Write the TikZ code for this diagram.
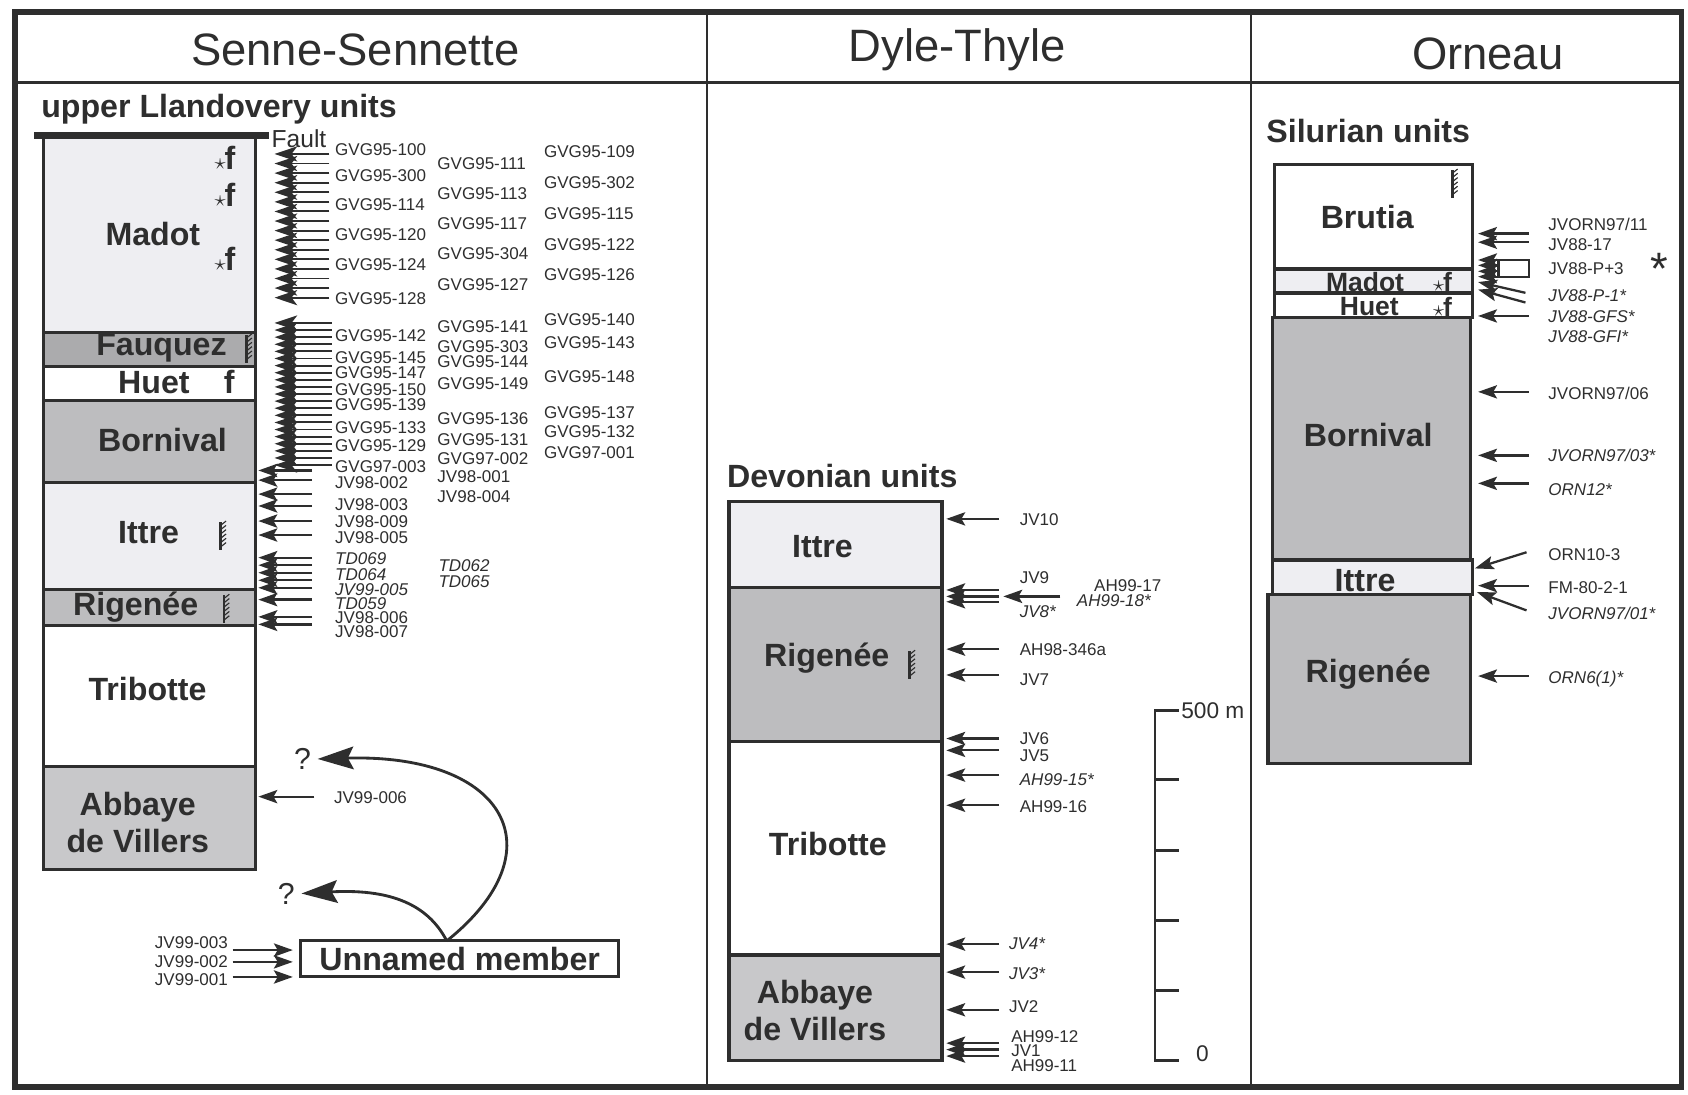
\documentclass[tikz,border=0pt]{standalone}
\usepackage{fontspec}
\setmainfont{Liberation Sans}
\usetikzlibrary{arrows.meta}

\definecolor{ink}{HTML}{2E2E2E}
\definecolor{lite}{HTML}{EEEEF2}
\definecolor{mid}{HTML}{BDBDBF}
\definecolor{dark}{HTML}{ABABAD}
\definecolor{pale}{HTML}{C8C8CA}

\newcommand{\starf}{{\fontsize{13}{13}\selectfont$\star$}\kern-0.5pt f}

\tikzset{
  unitbox/.style={draw=ink, line width=1.6pt},
  unitlab/.style={font=\bfseries\fontsize{17}{19.5}\selectfont, text=ink, align=center, inner sep=0pt},
  smallunit/.style={unitlab, font=\bfseries\fontsize{14}{14}\selectfont},
  heading/.style={font=\bfseries\fontsize{17}{17}\selectfont, text=ink, anchor=west, inner sep=0pt},
  colhead/.style={font=\fontsize{24}{24}\selectfont, text=ink, inner sep=0pt},
  smp/.style={font=\fontsize{9}{9}\selectfont, text=ink, anchor=west, inner sep=0pt},
  smpi/.style={smp, font=\itshape\fontsize{9}{9}\selectfont},
  arr/.style={draw=ink, line width=1.2pt, -{Stealth[length=10pt,width=7pt,inset=2pt]}},
  fatarr/.style={draw=ink, line width=1pt, -{Stealth[length=12pt,width=8pt,inset=3pt]}},
  bigarr/.style={draw=ink, line width=1.5pt, -{Stealth[length=19pt,width=12pt,inset=3pt]}},
  grapt/.pic={
    \draw[ink, line width=1.4pt] (0,0) -- (0,26);
    \foreach \tk in {3,7,...,23} \draw[ink, line width=0.6pt] (0,\tk) -- (5,\tk-4);
  }
}

\begin{document}
\begin{tikzpicture}[x=0.02cm, y=-0.02cm]
  \useasboundingbox (0,0) rectangle (1568,1017);

  % frame and column heads
  \draw[ink, line width=1pt] (657,11) -- (657,1010) (1162,11) -- (1162,1010);
  \draw[ink, line width=1.5pt] (14,77) -- (1562,77);
  \draw[ink, line width=3pt] (14,11) rectangle (1562,1010);
  \node[colhead] (h-ss) at (330,46) {Senne-Sennette};
  \node[colhead] (h-dt) at (889,46) {Dyle-Thyle};
  \node[colhead] (h-or) at (1382,50) {Orneau};

  % ---- Senne-Sennette ----
  \node[heading] (ss-head) at (38,101) {upper Llandovery units};
  \foreach \ya/\yb/\fc in {126/309/lite, 309/340/dark, 340/372/white, 372/448/mid,
    448/548/lite, 548/581/mid, 581/712/white, 712/808/pale}
    \filldraw[unitbox, fill=\fc] (40,\ya) rectangle (237,\yb);
  \foreach \nm/\lx/\ly/\lab in {
    mad/142/217/Madot, fau/150/323/Fauquez, hue/143/355/Huet, bor/151/409/Bornival,
    itt/138/495/Ittre, rig/126/564/Rigenée, tri/137/640/Tribotte}
    \node[unitlab] (ss-\nm) at (\lx,\ly) {\lab};
  \node[unitlab] (ss-abb) at (128,764) {Abbaye\\de Villers};
  \draw[ink, line width=3.5pt] (32,126) -- (250,126);
  \node[font=\fontsize{13}{13}\selectfont, text=ink, anchor=west, inner sep=0pt] (fault) at (252,129) {Fault};
  \foreach \y in {147,181,240}
    \node[unitlab] at (209,\y) {\starf};
  \node[unitlab] at (213,355) {f};
  \pic at (229,311) {grapt};
  \pic at (205,485) {grapt};
  \pic at (208,553) {grapt};

  \foreach \i in {0,...,15}
    \draw[fatarr] (306,{143+\i*8.9}) -- (255,{143+\i*8.9});
  \foreach \i in {0,...,20}
    \draw[fatarr] (308,{300+\i*6.6}) -- (255,{300+\i*6.6});
  \foreach \y in {437,446,459,470,484,497,518,525,532,539,546,557,573,580}
    \draw[arr] (290,\y) -- (240,\y);

  \foreach \x/\y/\lb [count=\k] in {
    311/139/GVG95-100, 311/163/GVG95-300, 311/190/GVG95-114, 311/218/GVG95-120,
    311/246/GVG95-124, 311/277/GVG95-128, 311/312/GVG95-142, 311/332/GVG95-145,
    311/346/GVG95-147, 311/362/GVG95-150, 311/376/GVG95-139, 311/397/GVG95-133,
    311/414/GVG95-129, 311/433/GVG97-003, 311/448/JV98-002, 311/469/JV98-003,
    311/485/JV98-009, 311/499/JV98-005, 311/574/JV98-006, 311/587/JV98-007,
    406/152/GVG95-111, 406/180/GVG95-113, 406/208/GVG95-117, 406/236/GVG95-304,
    406/264/GVG95-127, 406/303/GVG95-141, 406/322/GVG95-303, 406/336/GVG95-144,
    406/356/GVG95-149, 406/389/GVG95-136, 406/408/GVG95-131, 406/426/GVG97-002,
    406/443/JV98-001, 406/461/JV98-004,
    505/141/GVG95-109, 505/170/GVG95-302, 505/198/GVG95-115, 505/227/GVG95-122,
    505/255/GVG95-126, 505/297/GVG95-140, 505/318/GVG95-143, 505/350/GVG95-148,
    505/383/GVG95-137, 505/401/GVG95-132, 505/420/GVG97-001, 310/741/JV99-006}
    \node[smp] (ss\k) at (\x,\y) {\lb};
  \foreach \x/\y/\lb [count=\k] in {
    311/519/TD069, 311/534/TD064, 311/548/JV99-005, 311/561/TD059,
    407/525/TD062, 407/540/TD065}
    \node[smpi] (ssi\k) at (\x,\y) {\lb};
  \draw[arr] (292,740) -- (240,740);

  % unnamed member
  \node[draw=ink, line width=1.6pt, minimum width=5.92cm, minimum height=0.66cm,
        font=\bfseries\fontsize{17}{17}\selectfont, text=ink] (unnamed) at (427,890.5) {Unnamed member};
  \foreach \y/\lb [count=\k] in {876/JV99-003, 893/JV99-002, 910/JV99-001}
    \node[smp, anchor=east] (un\k) at (212,\y) {\lb};
  \foreach \y in {882.5,893.5,907.5}
    \draw[arr] (216,\y) -- (272,\y);
  \coordinate (un-top) at (415,874);
  \node[font=\fontsize{16}{16}\selectfont, text=ink] (q1) at (281,705) {?};
  \node[font=\fontsize{16}{16}\selectfont, text=ink] (q2) at (266,830) {?};
  \draw[bigarr] (un-top) .. controls (520,790) and (470,700) .. (q1.east);
  \draw[bigarr] (un-top) .. controls (400,845) and (370,825) .. (q2.east);

  % ---- Dyle-Thyle ----
  \node[heading] (dt-head) at (675,442) {Devonian units};
  \foreach \ya/\yb/\fc in {466/546/lite, 546/689/mid, 689/887/white, 887/985/pale}
    \filldraw[unitbox, line width=1.8pt, fill=\fc] (677,\ya) rectangle (875,\yb);
  \foreach \nm/\lx/\ly/\lab in {itt/764/508/Ittre, rig/768/611/Rigenée, tri/769/784/Tribotte}
    \node[unitlab] (dt-\nm) at (\lx,\ly) {\lab};
  \node[unitlab] (dt-abb) at (757,939) {Abbaye\\de Villers};
  \pic at (845,605) {grapt};
  \foreach \y in {482,548,554,559,603,627,686,697,720,748,877,903,938,969,975,981}
    \draw[arr] (928,\y) -- (879,\y);
  \draw[arr] (985,554) -- (932,554);
  \foreach \x/\y/\lb [count=\k] in {
    947/483/JV10, 947/537/JV9, 1016/544/AH99-17, 947/603/AH98-346a, 947/631/JV7,
    947/686/JV6, 947/702/JV5, 947/749/AH99-16, 937/935/JV2,
    939/963/AH99-12, 939/976/JV1, 939/990/AH99-11}
    \node[smp] (dt\k) at (\x,\y) {\lb};
  \foreach \x/\y/\lb [count=\k] in {
    947/568/JV8*, 1000/558/AH99-18*, 947/724/AH99-15*, 937/877/JV4*, 937/904/JV3*}
    \node[smpi] (dti\k) at (\x,\y) {\lb};

  % scale bar
  \draw[ink, line width=1.2pt] (1095,660) -- (1073,660) -- (1073,985) -- (1095,985);
  \foreach \y in {724,790,855,920}
    \draw[ink, line width=1.2pt] (1073,\y) -- (1095,\y);
  \node[font=\fontsize{12}{12}\selectfont, text=ink, anchor=west, inner sep=0pt] (sc-top) at (1097,660) {500 m};
  \node[font=\fontsize{12}{12}\selectfont, text=ink] (sc-bot) at (1117,979) {0};

  % ---- Orneau ----
  \node[heading] (or-head) at (1176,122) {Silurian units};
  \foreach \xa/\xb/\ya/\yb/\fc in {
    1184/1368/153/250/white, 1184/1368/250/272/lite, 1184/1368/272/295/white,
    1182/1366/295/520/mid, 1182/1368/520/552/lite, 1178/1366/552/709/mid}
    \filldraw[unitbox, line width=1.8pt, fill=\fc] (\xa,\ya) rectangle (\xb,\yb);
  \foreach \nm/\lx/\ly/\lab in {
    bru/1270/202/Brutia, bor/1271/404/Bornival, itt/1268/539/Ittre, rig/1271/626/Rigenée}
    \node[unitlab] (or-\nm) at (\lx,\ly) {\lab};
  \node[smallunit] (or-mad) at (1268,262) {Madot};
  \node[smallunit] (or-hue) at (1272,285) {Huet};
  \node[smallunit] at (1340,262) {\starf};
  \node[smallunit] at (1340,285) {\starf};
  \pic at (1349,158) {grapt};

  \foreach \y in {217,225,241.5,257,293.5,364,423,449,544,628}
    \draw[arr] (1420,\y) -- (1373,\y);
  \foreach \y in {246.5,252}
    \draw[arr] (1392,\y) -- (1373,\y);
  \draw[ink, line width=1.2pt] (1392,241.5) rectangle (1420,257);
  \draw[arr] (1417,272) -- (1373,262);
  \draw[arr] (1417,281) -- (1373,269);
  \draw[arr] (1418,513) -- (1370,528);
  \draw[arr] (1418,567) -- (1372,550);
  \foreach \y/\lb [count=\k] in {
    208/{JVORN97/11}, 227/JV88-17, 250/JV88-P+3, 365/{JVORN97/06},
    515/ORN10-3, 546/FM-80-2-1}
    \node[smp] (or\k) at (1438,\y) {\lb};
  \foreach \y/\lb [count=\k] in {
    275/JV88-P-1*, 294/JV88-GFS*, 313/JV88-GFI*, 423/{JVORN97/03*},
    455/ORN12*, 570/{JVORN97/01*}, 631/{ORN6(1)*}}
    \node[smpi] (ori\k) at (1438,\y) {\lb};
  \node[font=\fontsize{24}{24}\selectfont, text=ink] (bigstar) at (1541,250) {*};
\end{tikzpicture}
\end{document}
